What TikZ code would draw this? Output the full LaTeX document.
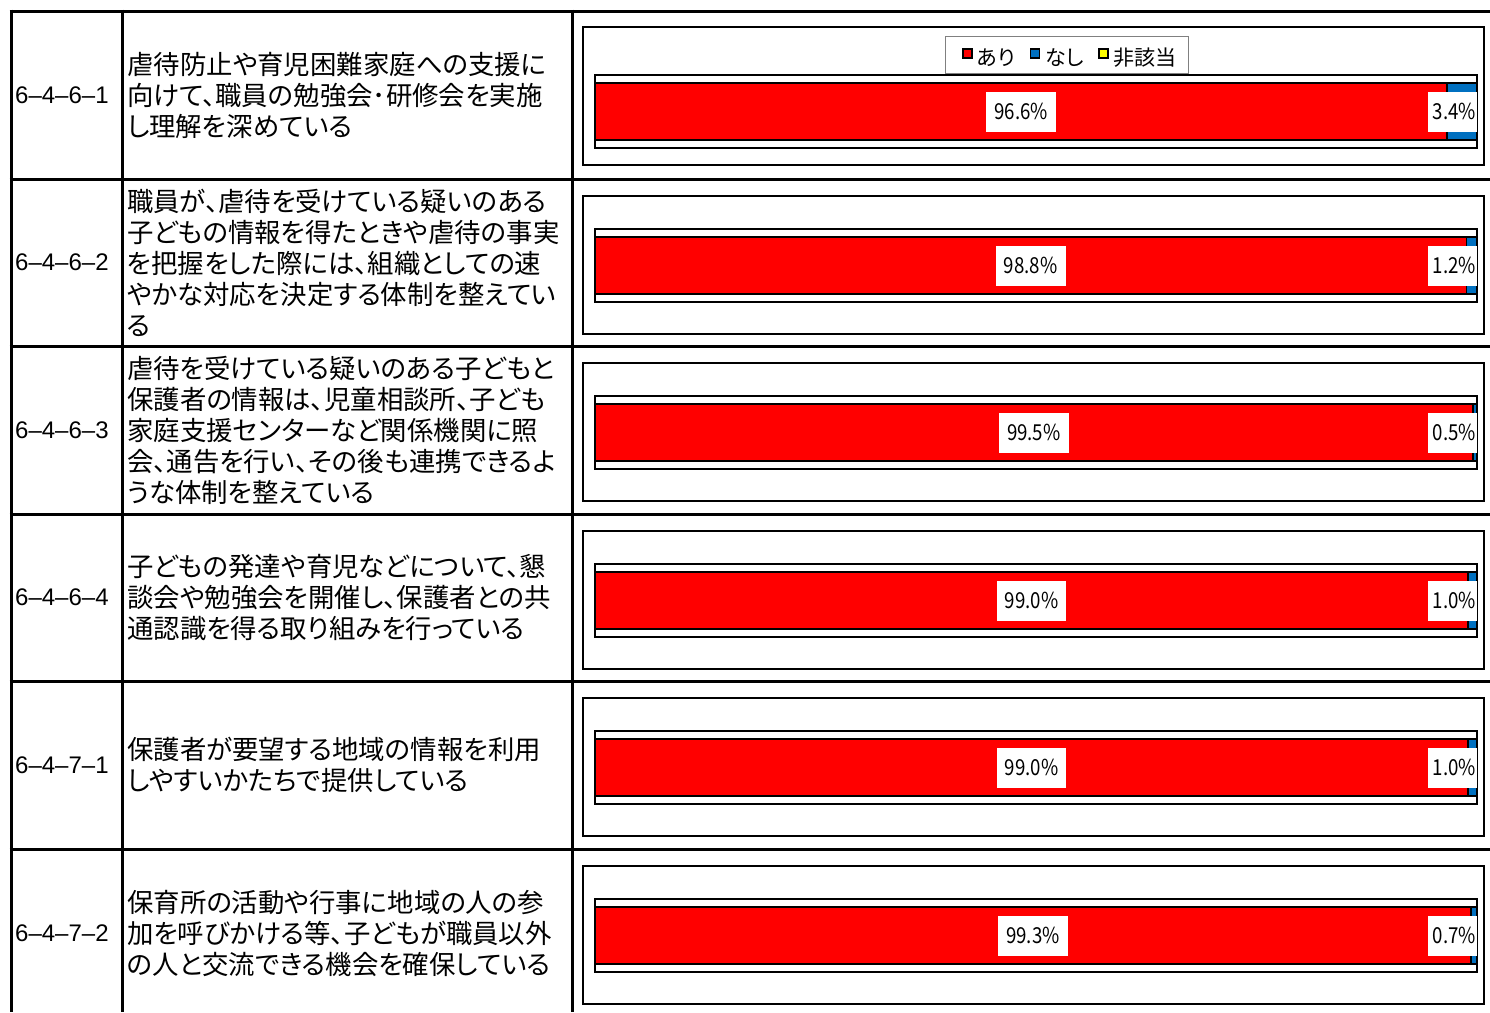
\documentclass[tikz,border=0pt]{standalone}
\usepackage{fontspec}
\setmainfont{Noto Sans CJK JP}[RawFeature={+palt}]
\newfontfamily\codefont{Liberation Sans}
\newfontfamily\numfont{Noto Sans CJK JP}
\usepackage{graphicx}
\definecolor{barred}{HTML}{FF0000}
\definecolor{barblue}{HTML}{0070C0}
\definecolor{baryellow}{HTML}{FFFF00}
\newcommand\nm[1]{\scalebox{0.85}[1]{#1}}
\tikzset{
  tabline/.style={line width=3pt},
  chartbox/.style={draw=black, line width=2pt, fill=white},
  plotframe/.style={draw=black, line width=1.3pt, fill=white},
  redbar/.style={fill=barred, draw=black, line width=1.8pt},
  bluebar/.style={fill=barblue, draw=black, line width=1.8pt},
  vlab/.style={fill=white, inner xsep=8pt, inner ysep=0pt, minimum height=40pt, font=\numfont\fontsize{22}{22}\selectfont},
  vlabr/.style={fill=white, inner xsep=1pt, inner ysep=0pt, minimum height=40pt, text width=47pt, align=right, anchor=east, font=\numfont\fontsize{22}{22}\selectfont},
  jtext/.style={anchor=west, align=left, inner sep=0pt, font=\fontsize{26.4}{31}\selectfont},
  codelab/.style={anchor=west, inner sep=0pt, font=\codefont\fontsize{24}{24}\selectfont},
  legbox/.style={draw=gray, line width=1pt, fill=white},
  legmark/.style={draw=black, line width=1.8pt},
  legtext/.style={anchor=west, inner sep=0pt, font=\fontsize{21}{21}\selectfont},
}
\begin{document}
\begin{tikzpicture}[x=1pt,y=-1pt]
\useasboundingbox (0,0) rectangle (1490,1012);
\fill[white] (0,0) rectangle (1490,1012);

% table grid
\foreach \y in {11,179,346,514,681,849}{
  \draw[tabline] (9.5,\y) -- (1490,\y);
}
\foreach \x in {11,122,572}{
  \draw[tabline] (\x,9.5) -- (\x,1012);
}

% codes
\node[codelab] (c1) at (15,95) {6–4–6–1};
\node[codelab] (c2) at (15,262.5) {6–4–6–2};
\node[codelab] (c3) at (15,430) {6–4–6–3};
\node[codelab] (c4) at (15,597.5) {6–4–6–4};
\node[codelab] (c5) at (15,765) {6–4–7–1};
\node[codelab] (c6) at (15,933) {6–4–7–2};

% descriptions
\node[jtext] (t1) at (127,95) {虐待防止や育児困難家庭への支援に\\向けて、職員の勉強会･研修会を実施\\し理解を深めている};
\node[jtext] (t2) at (127,262.5) {職員が、虐待を受けている疑いのある\\子どもの情報を得たときや虐待の事実\\を把握をした際には、組織としての速\\やかな対応を決定する体制を整えてい\\る};
\node[jtext] (t3) at (127,430) {虐待を受けている疑いのある子どもと\\保護者の情報は、児童相談所、子ども\\家庭支援センターなど関係機関に照\\会、通告を行い、その後も連携できるよ\\うな体制を整えている};
\node[jtext] (t4) at (127,597.5) {子どもの発達や育児などについて、懇\\談会や勉強会を開催し、保護者との共\\通認識を得る取り組みを行っている};
\node[jtext] (t5) at (127,765) {保護者が要望する地域の情報を利用\\しやすいかたちで提供している};
\node[jtext] (t6) at (127,933) {保育所の活動や行事に地域の人の参\\加を呼びかける等、子どもが職員以外\\の人と交流できる機会を確保している};

% charts
\foreach \bt/\ft/\p/\a/\b [count=\i] in {27/75/0.966/96.6/3.4, 196/229/0.988/98.8/1.2, 363/396/0.995/99.5/0.5, 531/564/0.990/99.0/1.0, 698/731/0.990/99.0/1.0, 866/899/0.993/99.3/0.7}{
  \pgfmathsetmacro\sx{595+\p*882}
  \pgfmathsetmacro\cx{(595+\sx)/2}
  \pgfmathsetmacro\cy{\ft+36.5}
  \draw[chartbox] (583,\bt) rectangle (1484,\bt+138);
  \draw[plotframe] (595,\ft) rectangle (1477,\ft+73);
  \draw[redbar] (595,\ft+8) rectangle (\sx,\ft+65);
  \draw[bluebar] (\sx,\ft+8) rectangle (1477,\ft+65);
  \node[vlab] (la\i) at (\cx,\cy) {\nm{\a\%}};
  \node[vlabr] (lb\i) at (1477,\cy) {\nm{\b\%}};
}

% legend
\draw[legbox] (945.5,36.5) rectangle (1188,73);
\draw[legmark, fill=barred] (963,49) rectangle (972,58);
\node[legtext] (lg1) at (977,58) {あり};
\draw[legmark, fill=barblue] (1030.5,49) rectangle (1039.5,58);
\node[legtext] (lg2) at (1045,58) {なし};
\draw[legmark, fill=baryellow] (1099,49) rectangle (1108,58);
\node[legtext] (lg3) at (1113,58) {非該当};
\end{tikzpicture}
\end{document}
